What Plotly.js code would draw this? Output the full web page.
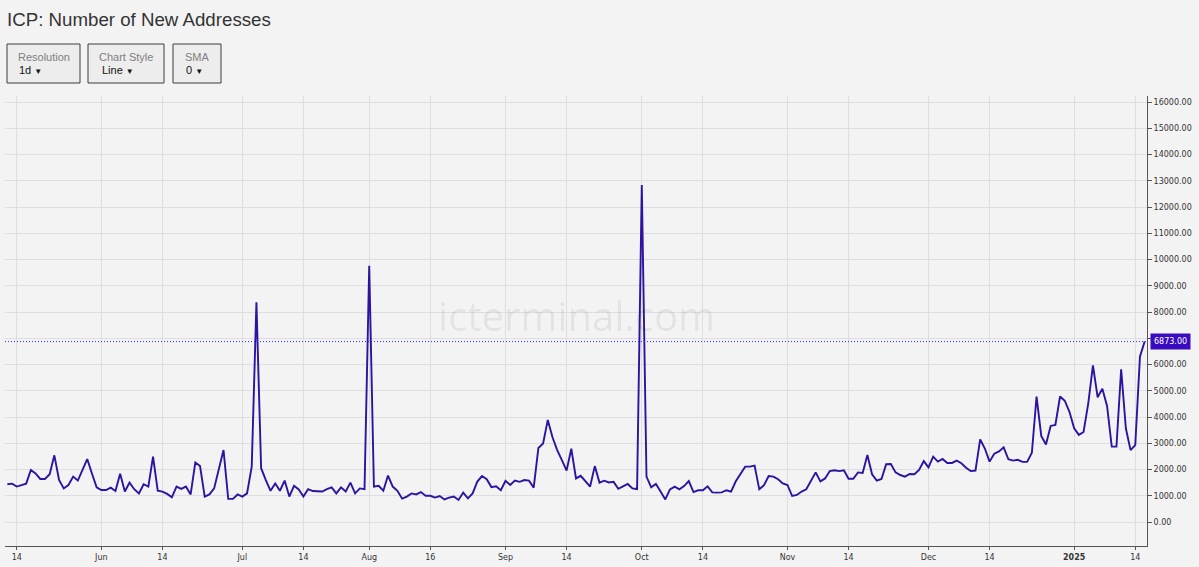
<!DOCTYPE html>
<html>
<head>
<meta charset="utf-8">
<script src="https://cdn.plot.ly/plotly-3.0.1.min.js"></script>
<style>
  html, body { margin: 0; padding: 0; background: #f4f3f4; }
  #chart { width: 1199px; height: 567px; }
</style>
</head>
<body>
<div id="chart"></div>
<script>
// ---- data ----
const startDate = '2024-05-12';
const endDate = '2025-01-16';
const missingDays = ['2024-07-20', '2024-07-21', '2024-07-27', '2024-07-28', '2024-08-04', '2024-08-10', '2024-09-22'];

const newAddresses = [
  1440, 1460, 1350, 1410, 1460, 1980, 1850, 1640, 1640, 1820,
  2540, 1600, 1280, 1410, 1730, 1580, 1960, 2400, 1850, 1320,
  1220, 1220, 1310, 1180, 1840, 1160, 1500, 1250, 1090, 1440,
  1350, 2490, 1190, 1160, 1070, 940, 1350, 1260, 1350, 1050,
  2270, 2130, 970, 1050, 1280, 1980, 2740, 880, 880, 1050,
  970, 1090, 2110, 8370, 2050, 1600, 1190, 1470, 1190, 1580,
  970, 1380, 1240, 970, 1250, 1180, 1180, 1160, 1250, 1320,
  1090, 1320, 1160, 1500, 1090, 1280, 1250, 9760, 1350, 1380,
  1190, 1770, 1350, 1190, 890, 970, 1090, 1050, 1140, 1000,
  1000, 930, 990, 860, 930, 970, 840, 1120, 900, 1090,
  1540, 1750, 1630, 1330, 1360, 1210, 1570, 1410, 1575, 1530,
  1600, 1575, 1310, 2820, 2990, 3890, 3230, 2740, 2360, 1960,
  2790, 1660, 1760, 1560, 1350, 2130, 1500, 1575, 1505, 1530,
  1265, 1360, 1450, 1280, 1255, 12840, 1730, 1320, 1450, 1160,
  860, 1245, 1350, 1245, 1370, 1560, 1140, 1210, 1210, 1360,
  1130, 1120, 1130, 1210, 1160, 1550, 1850, 2110, 2110, 2150,
  1245, 1400, 1750, 1730, 1630, 1470, 1410, 990, 1030, 1160,
  1245, 1540, 1890, 1550, 1660, 1940, 1970, 1940, 1970, 1650,
  1650, 1890, 1870, 2550, 1820, 1575, 1640, 2200, 2210, 1890,
  1790, 1730, 1830, 1820, 1980, 2320, 2080, 2490, 2300, 2400,
  2250, 2250, 2340, 2240, 2070, 1940, 1960, 3150, 2800, 2300,
  2600, 2690, 2845, 2390, 2340, 2370, 2290, 2290, 2640, 4780,
  3280, 2950, 3660, 3700, 4780, 4620, 4200, 3570, 3320, 3430,
  4520, 5970, 4750, 5080, 4420, 2870, 2870, 5820, 3570, 2740,
  2930, 6300, 6873
];

const lastValue = 6873;

const tickDates = ['2024-05-14', '2024-06-01', '2024-06-14', '2024-07-01', '2024-07-14',
  '2024-08-01', '2024-08-16', '2024-09-01', '2024-09-14', '2024-10-01', '2024-10-14',
  '2024-11-01', '2024-11-14', '2024-12-01', '2024-12-14', '2025-01-01', '2025-01-14'];
const tickLabels = ['14', 'Jun', '14', 'Jul', '14', 'Aug', '16', 'Sep', '14', 'Oct', '14',
  'Nov', '14', 'Dec', '14', '<b>2025</b>', '14'];

const yTickValues = [0, 1000, 2000, 3000, 4000, 5000, 6000, 7000, 8000, 9000, 10000,
  11000, 12000, 13000, 14000, 15000, 16000];

const chartTitle = 'ICP: Number of New Addresses';
const controls = [
  { label: 'Resolution', value: '1d' },
  { label: 'Chart Style', value: 'Line' },
  { label: 'SMA', value: '0' }
];
const watermark = 'icterminal.com';

// ---- build the date categories (days with data) ----
const dates = [];
{
  let d = new Date(startDate + 'T00:00:00Z');
  const end = new Date(endDate + 'T00:00:00Z');
  while (d <= end) {
    const s = d.toISOString().slice(0, 10);
    if (!missingDays.includes(s)) dates.push(s);
    d = new Date(d.getTime() + 86400000);
  }
}

// y tick labels; the one hidden behind the last-value marker is left blank
const yTickText = yTickValues.map(v => Math.abs(v - lastValue) < 500 ? '' : v.toFixed(2));

// ---- layout helpers (pixel -> paper) ----
const W = 1199, H = 567;
const M = { l: 5, r: 52, t: 96, b: 21 };
const PW = W - M.l - M.r, PH = H - M.t - M.b;
const px = x => (x - M.l) / PW;
const py = y => (H - M.b - y) / PH;

const lineColor = '#2d139f';
const markColor = '#3a0cbf';
const dotColor = '#2a2aff';
const axisFont = { family: 'DejaVu Sans, Verdana, sans-serif', size: 8, color: '#333' };

const boxes = [
  { x0: 7, x1: 80, textLeft: 19 },
  { x0: 88, x1: 164, textLeft: 102 },
  { x0: 173, x1: 221, textLeft: 186 }
];

const shapes = [
  {
    type: 'line', xref: 'paper', x0: 0, x1: 1, yref: 'y', y0: lastValue, y1: lastValue,
    line: { color: dotColor, width: 1, dash: '1px,2px' }, layer: 'above'
  }
];
const annotations = [];

boxes.forEach((b, i) => {
  shapes.push({
    type: 'rect', xref: 'paper', yref: 'paper',
    x0: px(b.x0), x1: px(b.x1), y0: py(83), y1: py(44),
    line: { color: '#3c3c3c', width: 1 }, fillcolor: '#eeeded', layer: 'above'
  });
  annotations.push({
    xref: 'paper', yref: 'paper', x: px((b.x0 + b.x1) / 2), y: py(57.5),
    xanchor: 'center', yanchor: 'middle', showarrow: false,
    text: controls[i].label,
    font: { family: 'Liberation Sans, Arial, sans-serif', size: 11, color: '#808080' }
  });
  annotations.push({
    xref: 'paper', yref: 'paper', x: px(b.textLeft - 2), y: py(70),
    xanchor: 'left', yanchor: 'middle', showarrow: false,
    text: controls[i].value + ' <span style="font-size:8px">▼</span>',
    font: { family: 'Liberation Sans, Arial, sans-serif', size: 11, color: '#111' }
  });
});

annotations.push({
  xref: 'paper', yref: 'paper', x: 0.5, y: py(315),
  xanchor: 'center', yanchor: 'middle', showarrow: false,
  text: watermark,
  font: { family: 'Open Sans, Liberation Sans, sans-serif', size: 40, color: 'rgba(0,0,0,0.075)' }
});

annotations.push({
  xref: 'paper', yref: 'y', x: 1, y: lastValue, xanchor: 'left', yanchor: 'middle',
  xshift: 3, showarrow: false, text: lastValue.toFixed(2),
  bgcolor: markColor, borderpad: 3,
  font: { family: 'DejaVu Sans, Verdana, sans-serif', size: 8, color: '#ffffff' }
});

const trace = {
  type: 'scatter', mode: 'lines',
  x: dates, y: newAddresses,
  line: { color: lineColor, width: 1.9 },
  hoverinfo: 'x+y'
};

const layout = {
  width: W, height: H,
  margin: M,
  paper_bgcolor: '#f4f3f4',
  plot_bgcolor: '#f4f3f4',
  showlegend: false,
  title: {
    text: chartTitle, xref: 'container', yref: 'container',
    x: 7 / W, xanchor: 'left', y: 1 - 19.5 / H, yanchor: 'middle',
    font: { family: 'Liberation Sans, Arial, sans-serif', size: 18.7, color: '#333' }
  },
  xaxis: {
    type: 'category',
    range: [-0.5, dates.length - 0.5],
    tickmode: 'array', tickvals: tickDates, ticktext: tickLabels,
    showgrid: true, gridcolor: '#dedede', gridwidth: 1,
    showline: true, linecolor: '#555', linewidth: 1,
    ticks: 'outside', ticklen: 3, tickcolor: '#555',
    tickfont: axisFont, zeroline: false, fixedrange: true
  },
  yaxis: {
    side: 'right',
    range: [-914, 16229],
    tickmode: 'array', tickvals: yTickValues, ticktext: yTickText,
    showgrid: true, gridcolor: '#dedede', gridwidth: 1,
    showline: true, linecolor: '#555', linewidth: 1,
    ticks: 'outside', ticklen: 4, tickcolor: '#555',
    tickfont: axisFont, zeroline: false, fixedrange: true
  },
  shapes: shapes,
  annotations: annotations
};

Plotly.newPlot('chart', [trace], layout, { displayModeBar: false, staticPlot: true });
</script>
</body>
</html>
